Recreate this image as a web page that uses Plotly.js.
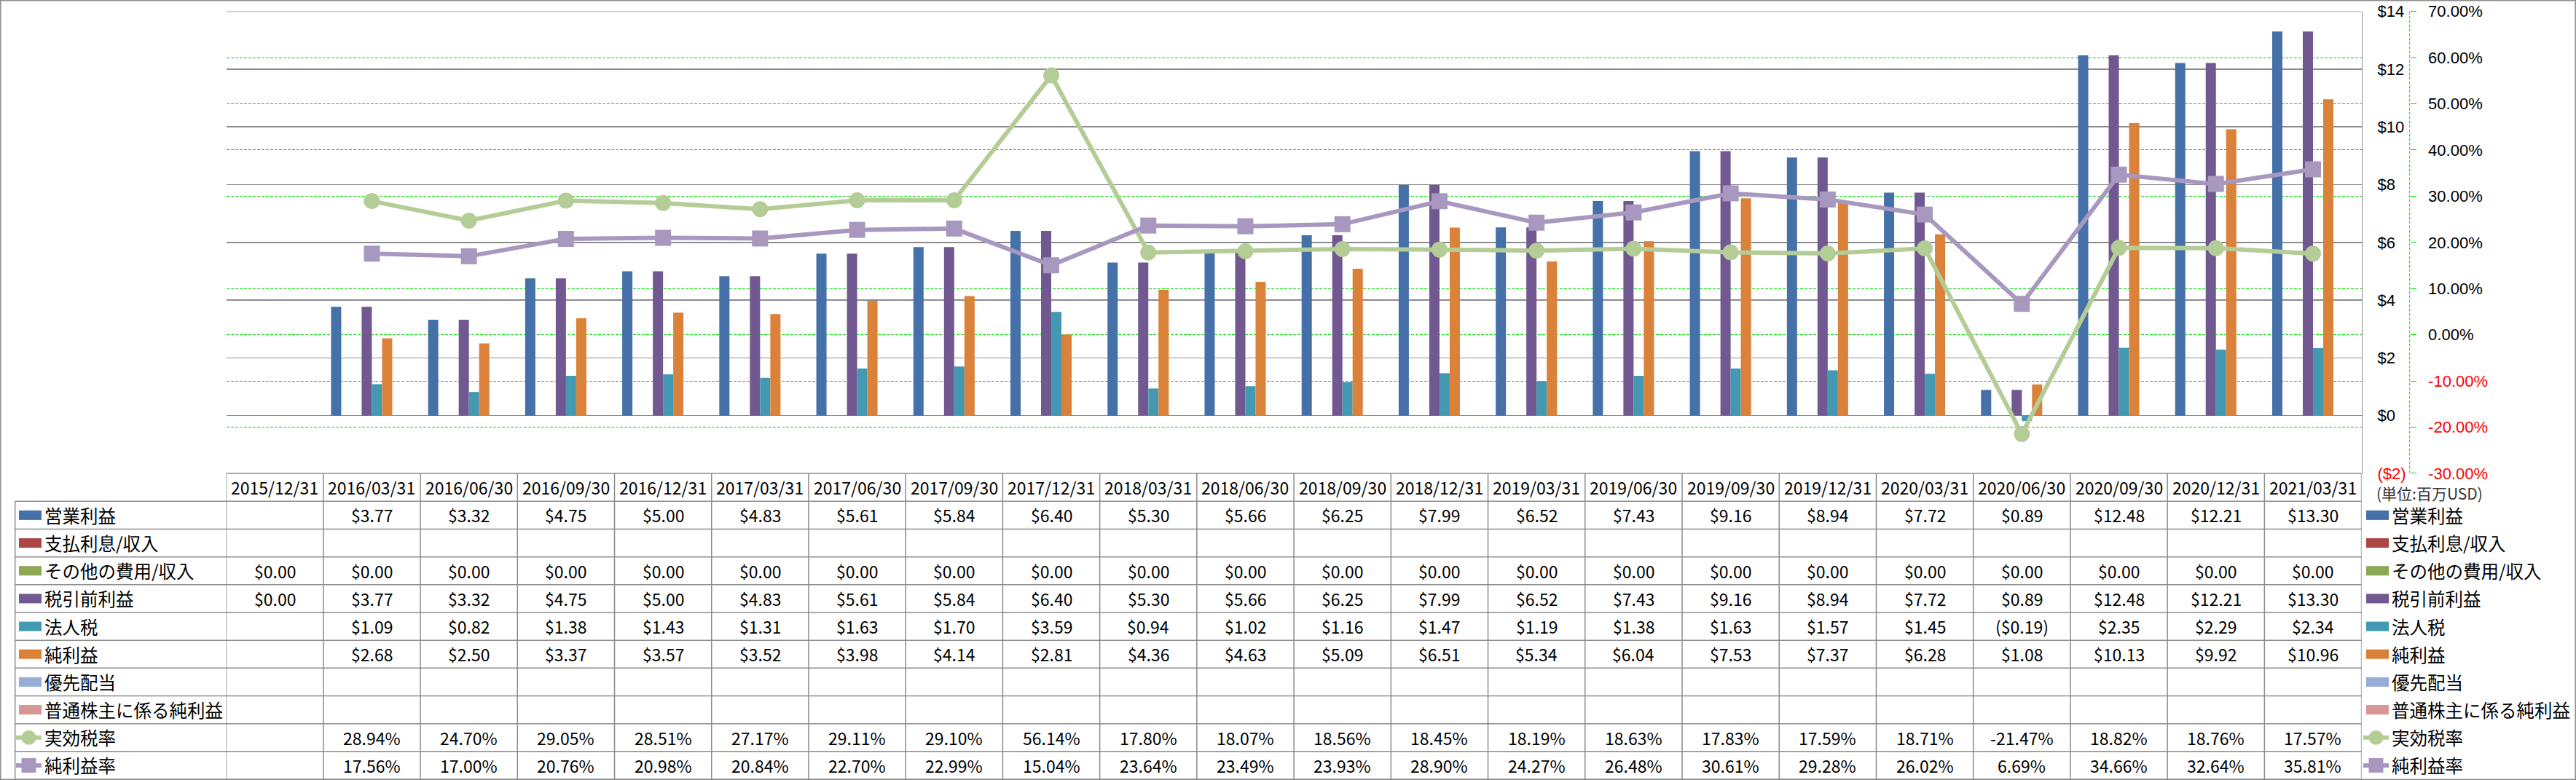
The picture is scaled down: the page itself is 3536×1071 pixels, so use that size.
<!DOCTYPE html>
<html>
<head>
<meta charset="utf-8">
<script src="https://cdn.plot.ly/plotly-3.0.1.min.js"></script>
<style>
html,body{margin:0;padding:0;background:#fff;}
#chart{width:3536px;height:1071px;}
</style>
</head>
<body>
<div id="chart"></div>
<script>
// ---------- DATA ----------
const categories = ["2015/12/31","2016/03/31","2016/06/30","2016/09/30","2016/12/31","2017/03/31","2017/06/30","2017/09/30","2017/12/31","2018/03/31","2018/06/30","2018/09/30","2018/12/31","2019/03/31","2019/06/30","2019/09/30","2019/12/31","2020/03/31","2020/06/30","2020/09/30","2020/12/31","2021/03/31"];
const operatingIncome = [null,3.77,3.32,4.75,5.00,4.83,5.61,5.84,6.40,5.30,5.66,6.25,7.99,6.52,7.43,9.16,8.94,7.72,0.89,12.48,12.21,13.30];
const interestExpense = [null,null,null,null,null,null,null,null,null,null,null,null,null,null,null,null,null,null,null,null,null,null];
const otherExpense = [0,0,0,0,0,0,0,0,0,0,0,0,0,0,0,0,0,0,0,0,0,0];
const pretaxIncome = [0.00,3.77,3.32,4.75,5.00,4.83,5.61,5.84,6.40,5.30,5.66,6.25,7.99,6.52,7.43,9.16,8.94,7.72,0.89,12.48,12.21,13.30];
const incomeTax = [null,1.09,0.82,1.38,1.43,1.31,1.63,1.70,3.59,0.94,1.02,1.16,1.47,1.19,1.38,1.63,1.57,1.45,-0.19,2.35,2.29,2.34];
const netIncome = [null,2.68,2.50,3.37,3.57,3.52,3.98,4.14,2.81,4.36,4.63,5.09,6.51,5.34,6.04,7.53,7.37,6.28,1.08,10.13,9.92,10.96];
const preferredDividends = [null,null,null,null,null,null,null,null,null,null,null,null,null,null,null,null,null,null,null,null,null,null];
const netIncomeCommon = [null,null,null,null,null,null,null,null,null,null,null,null,null,null,null,null,null,null,null,null,null,null];
const effectiveTaxRate = [null,28.94,24.70,29.05,28.51,27.17,29.11,29.10,56.14,17.80,18.07,18.56,18.45,18.19,18.63,17.83,17.59,18.71,-21.47,18.82,18.76,17.57];
const netMargin = [null,17.56,17.00,20.76,20.98,20.84,22.70,22.99,15.04,23.64,23.49,23.93,28.90,24.27,26.48,30.61,29.28,26.02,6.69,34.66,32.64,35.81];

const seriesNames = ["営業利益","支払利息/収入","その他の費用/収入","税引前利益","法人税","純利益","優先配当","普通株主に係る純利益","実効税率","純利益率"];
const dollarTicks = [-2,0,2,4,6,8,10,12,14];
const pctTicks = [-30,-20,-10,0,10,20,30,40,50,60,70];
const unitLabel = "(単位:百万USD)";

// ---------- STYLE ----------
const W = 3536, H = 1071;
const PL = 310.6, PR = 3241.6, PT = 15.6, PB = 650;
const ROW0 = 688.3, ROWH = 38.17;
const FONT = "'Noto Sans CJK JP', 'Noto Sans', sans-serif";
const TICKFONT = "'Liberation Sans', Arial, sans-serif";
const GRID = "#8c8c8c";
const GREEN = "#00e000";
const colors = ["#4571a8","#aa4644","#8ca853","#715891","#4399b1","#da813a","#97add6","#d79694","#b4cc96","#a898bf"];

const px = x => x / W;
const py = y => 1 - y / H;

const barSeries = [operatingIncome, interestExpense, otherExpense, pretaxIncome, incomeTax, netIncome, preferredDividends, netIncomeCommon];
const lineSeries = [effectiveTaxRate, netMargin];

const traces = [];
barSeries.forEach((vals, i) => {
  traces.push({
    type: 'bar', x: categories, y: vals, name: seriesNames[i],
    marker: {color: colors[i], line: {width: 0}},
    xaxis: 'x', yaxis: 'y', hoverinfo: 'skip', showlegend: false
  });
});
lineSeries.forEach((vals, j) => {
  const i = 8 + j;
  traces.push({
    type: 'scatter', mode: 'lines+markers', x: categories, y: vals.map(v => v === null ? null : v / 100),
    name: seriesNames[i], xaxis: 'x', yaxis: 'y2',
    line: {color: colors[i], width: 6},
    marker: {color: colors[i], size: 22, symbol: j === 0 ? 'circle' : 'square', line: {color: colors[i], width: 0}},
    hoverinfo: 'skip', showlegend: false
  });
});

function fmtDollar(v) {
  return v < 0 ? "($" + Math.abs(v).toFixed(2) + ")" : "$" + v.toFixed(2);
}
function fmtPct(v) { return v.toFixed(2) + "%"; }

const dollarTickText = dollarTicks.map(v => v < 0 ? '<span style="color:#ff0000">($' + Math.abs(v) + ')</span>' : '$' + v);
const pctTickText = pctTicks.map(v => v < 0 ? '<span style="color:#ff0000">' + v.toFixed(2) + '%</span>' : v.toFixed(2) + '%');

const shapes = [];
const annotations = [];

// outer border
shapes.push({type: 'rect', xref: 'paper', yref: 'paper', x0: px(0.75), x1: px(W - 0.75), y0: py(H - 0.75), y1: py(0.75), line: {color: GRID, width: 1.5}});

// secondary axis dashed line
shapes.push({type: 'line', xref: 'paper', yref: 'paper', x0: px(3307.7), x1: px(3307.7), y0: py(PT), y1: py(PB), line: {color: GREEN, width: 1, dash: '4px,2px'}});

// primary gridlines that coincide with secondary gridlines stay grey on top
dollarTicks.forEach(v => {
  const pctEquivalent = -30 + (v + 2) * 100 / 16;
  if (pctTicks.some(p => Math.abs(p - pctEquivalent) < 1e-9) && v > -2) {
    shapes.push({type: 'line', xref: 'x', yref: 'y', layer: 'between', x0: -0.5, x1: categories.length - 0.5, y0: v, y1: v, line: {color: GRID, width: 1.5}});
  }
});

// table: header top line
shapes.push({type: 'line', xref: 'x', yref: 'paper', x0: -0.5, x1: categories.length - 0.5, y0: py(PB), y1: py(PB), line: {color: GRID, width: 1.5}});
// table: row lines
const nRows = seriesNames.length;
for (let r = 0; r <= nRows; r++) {
  const y = ROW0 + ROWH * r;
  shapes.push({type: 'line', xref: 'paper', yref: 'paper', x0: px(20.7), x1: px(PR), y0: py(y), y1: py(y), line: {color: GRID, width: 1.5}});
}
const tableBottom = ROW0 + ROWH * nRows;
// left edge of label column
shapes.push({type: 'line', xref: 'paper', yref: 'paper', x0: px(20.7), x1: px(20.7), y0: py(ROW0), y1: py(tableBottom), line: {color: GRID, width: 1.5}});
// column lines
for (let c = 0; c <= categories.length; c++) {
  shapes.push({type: 'line', xref: 'x', yref: 'paper', x0: c - 0.5, x1: c - 0.5, y0: py(PB), y1: py(tableBottom), line: {color: GRID, width: 1.5}});
}

// header labels
categories.forEach((c, i) => {
  annotations.push({xref: 'x', yref: 'paper', x: i, y: py((PB + ROW0) / 2), text: c, showarrow: false,
    xanchor: 'center', yanchor: 'middle', font: {family: FONT, size: 23, color: '#000'}});
});

// cell values
const allSeries = [...barSeries, ...lineSeries];
allSeries.forEach((vals, r) => {
  const yc = ROW0 + ROWH * (r + 0.5);
  vals.forEach((v, i) => {
    if (v === null) return;
    annotations.push({xref: 'x', yref: 'paper', x: i, y: py(yc), text: r >= 8 ? fmtPct(v) : fmtDollar(v), showarrow: false,
      xanchor: 'center', yanchor: 'middle', font: {family: FONT, size: 23, color: '#000'}});
  });
});

// legends (table-left and right)
function legendEntry(x0, textX, r) {
  const yc = ROW0 + ROWH * (r + 0.5);
  const col = colors[r];
  if (r < 8) {
    shapes.push({type: 'rect', xref: 'paper', yref: 'paper', x0: px(x0), x1: px(x0 + 31), y0: py(yc + 6.5), y1: py(yc - 6.5), fillcolor: col, line: {width: 0}});
  } else {
    shapes.push({type: 'line', xref: 'paper', yref: 'paper', x0: px(x0 - 4), x1: px(x0 + 31), y0: py(yc), y1: py(yc), line: {color: col, width: 6}});
    const cx = x0 + 13.5;
    shapes.push({type: r === 8 ? 'circle' : 'rect', xref: 'paper', yref: 'paper', x0: px(cx - 10), x1: px(cx + 10), y0: py(yc + 10), y1: py(yc - 10), fillcolor: col, line: {width: 0}});
  }
  annotations.push({xref: 'paper', yref: 'paper', x: px(textX), y: py(yc), text: seriesNames[r], showarrow: false,
    xanchor: 'left', yanchor: 'middle', font: {family: FONT, size: 24.5, color: '#000'}});
}
for (let r = 0; r < nRows; r++) {
  legendEntry(26, 59, r);
  legendEntry(3248, 3281, r);
}

// unit label
annotations.push({xref: 'paper', yref: 'paper', x: px(3260), y: py(677), text: unitLabel, showarrow: false,
  xanchor: 'left', yanchor: 'middle', font: {family: FONT, size: 21, color: '#333'}});

const EPS = 0.0005;
const layout = {
  width: W, height: H,
  margin: {l: 0, r: 0, t: 0, b: 0, pad: 0},
  paper_bgcolor: '#fff', plot_bgcolor: '#fff',
  showlegend: false,
  barmode: 'group', bargap: 0.159, bargroupgap: 0,
  font: {family: FONT, size: 22, color: '#000'},
  xaxis: {type: 'category', domain: [px(PL), px(PR)], range: [-0.5, categories.length - 0.5],
    showticklabels: false, showgrid: false, zeroline: false, showline: false, ticks: '', fixedrange: true},
  yaxis: {domain: [py(PB), py(PT)], range: [-2 - EPS, 14 + EPS], side: 'right', tickmode: 'array', tickvals: dollarTicks, ticktext: dollarTickText,
    showgrid: true, gridcolor: GRID, gridwidth: 1.5, zeroline: false, showline: true, linecolor: GRID, linewidth: 1.5,
    ticks: '', ticklabelstandoff: 16, ticklabeloverflow: 'allow', tickfont: {family: TICKFONT, size: 22, color: '#000'}, fixedrange: true},
  yaxis2: {overlaying: 'y', side: 'right', anchor: 'free', position: px(3307.7), range: [-0.3 - EPS / 16, 0.7 + EPS / 16],
    tickmode: 'array', tickvals: pctTicks.map(v => v / 100), ticktext: pctTickText,
    showgrid: true, gridcolor: GREEN, griddash: '4px,2px', gridwidth: 1, zeroline: false, showline: false,
    ticks: 'outside', ticklen: 8, tickwidth: 1, tickcolor: GREEN, ticklabelstandoff: 12, ticklabeloverflow: 'allow',
    tickfont: {family: TICKFONT, size: 22, color: '#000'}, fixedrange: true},
  shapes: shapes,
  annotations: annotations
};

Plotly.newPlot('chart', traces, layout, {staticPlot: true, displayModeBar: false});
</script>
</body>
</html>
